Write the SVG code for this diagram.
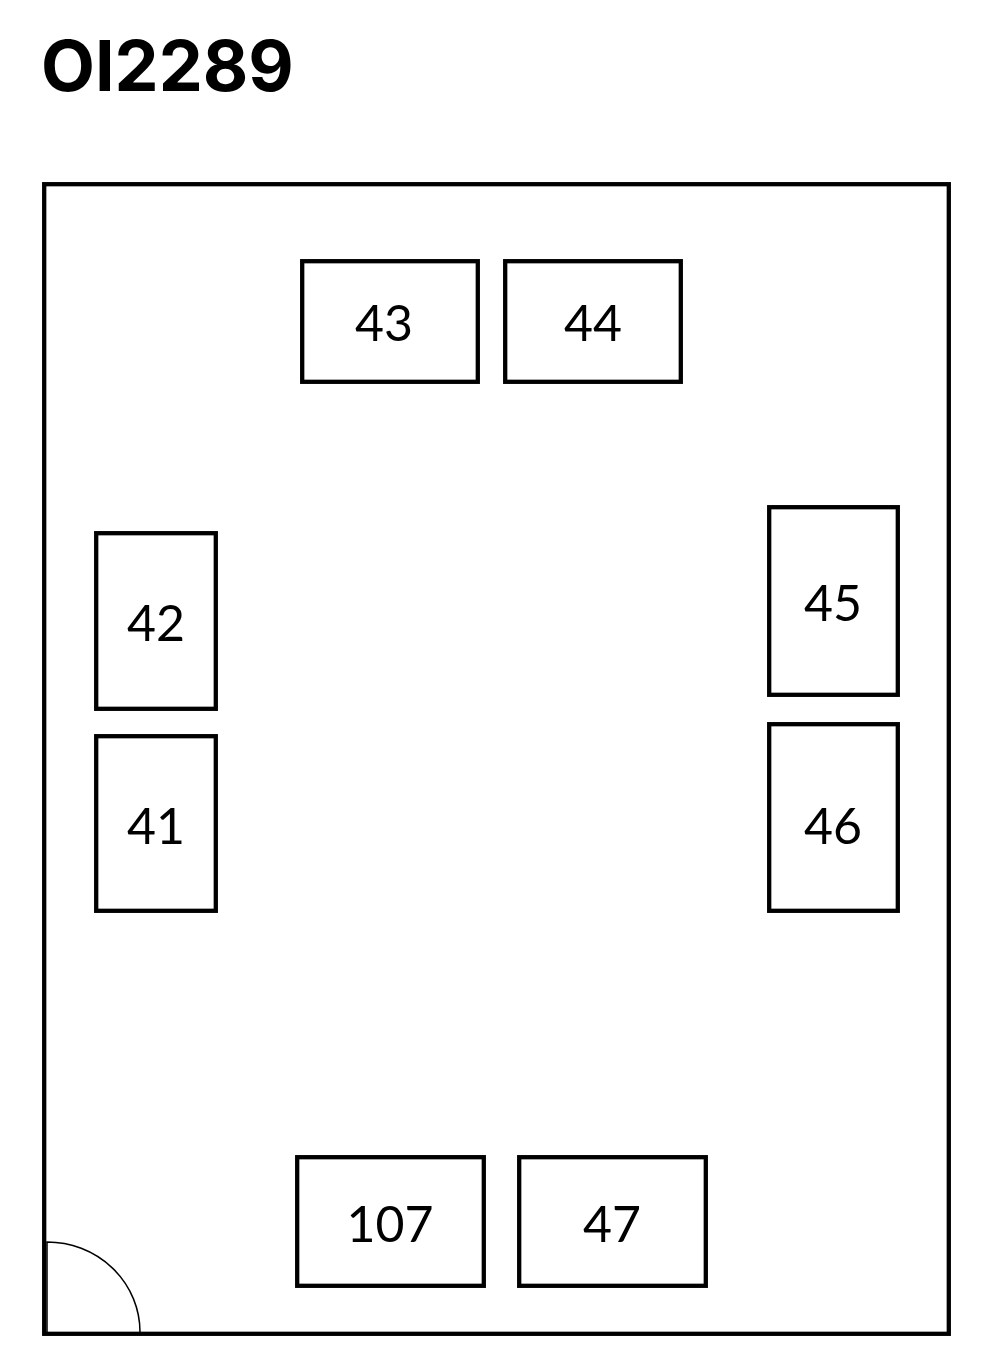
<svg xmlns="http://www.w3.org/2000/svg" width="990" height="1372" viewBox="0 0 990 1372">
<style>
.b{fill:#fff;stroke:#000;stroke-width:4.3}
.t{font-family:"Lato","Noto Sans",sans-serif;font-size:50px;font-weight:400;fill:#000;text-anchor:middle}
.h{font-family:"Inter","Noto Sans",sans-serif;font-size:70px;font-weight:700;fill:#000}
</style>
<rect width="990" height="1372" fill="#fff"/>
<text class="h" x="41" y="90.5">OI2289</text>
<rect x="44.2" y="184.2" width="904.6" height="1149.6" fill="none" stroke="#000" stroke-width="4.3"/>
<path d="M47 1332V1242A93 90 0 0 1 140 1332" fill="none" stroke="#000" stroke-width="1.5"/>
<g id="n43"><rect class="b" x="302.2" y="261.2" width="175.6" height="120.6"/><text class="t" x="384" y="340.5">43</text></g>
<g id="n44"><rect class="b" x="505.2" y="261.2" width="175.6" height="120.6"/><text class="t" x="593" y="340.5">44</text></g>
<g id="n42"><rect class="b" x="96.2" y="533.2" width="119.6" height="175.6"/><text class="t" x="156" y="640.5">42</text></g>
<g id="n41"><rect class="b" x="96.2" y="736.2" width="119.6" height="174.6"/><text class="t" x="156" y="843.5">41</text></g>
<g id="n45"><rect class="b" x="769.2" y="507.2" width="128.6" height="187.6"/><text class="t" x="833" y="620.5">45</text></g>
<g id="n46"><rect class="b" x="769.2" y="724.2" width="128.6" height="186.6"/><text class="t" x="833" y="843.5">46</text></g>
<g id="n107"><rect class="b" x="297.2" y="1157.2" width="186.6" height="128.6"/><text class="t" x="390" y="1241.5">107</text></g>
<g id="n47"><rect class="b" x="519.2" y="1157.2" width="186.6" height="128.6"/><text class="t" x="612" y="1241.5">47</text></g>
<g id="connectors"/>
</svg>
